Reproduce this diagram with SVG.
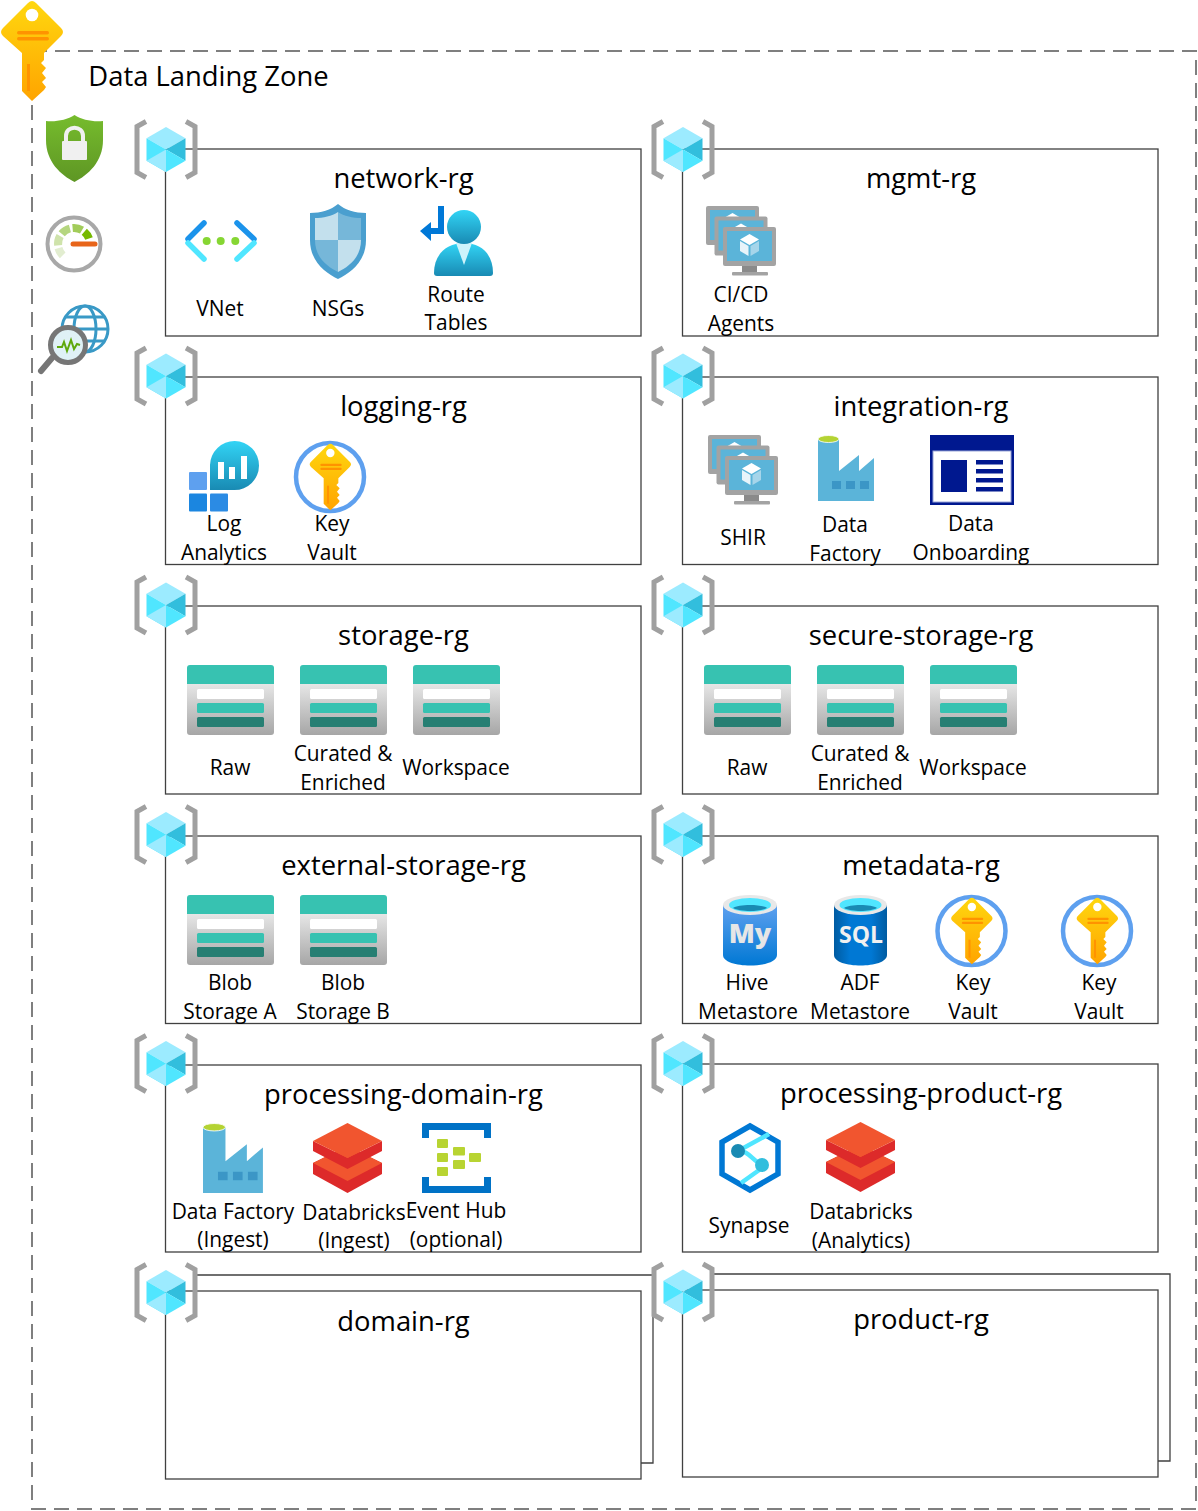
<svg xmlns="http://www.w3.org/2000/svg" xmlns:xlink="http://www.w3.org/1999/xlink" width="1198" height="1511" viewBox="0 0 1198 1511">
<style>
text{font-family:"Open Sans","Noto Sans","Liberation Sans",sans-serif;fill:#000;text-anchor:middle}
.t{font-size:27.400px}
.l{font-size:20.900px}
.box{fill:#fff;stroke:#404040;stroke-width:1.3}
.back{fill:none;stroke:#404040;stroke-width:1.3}
.br{fill:none;stroke:#a0a0a0;stroke-width:5;stroke-linejoin:miter}
</style>
<defs>
<linearGradient id="gKey" x1="0" y1="0" x2="0" y2="1"><stop offset="0" stop-color="#ffd70f"/><stop offset="1" stop-color="#ffa400"/></linearGradient>
<linearGradient id="gGrey" x1="0" y1="0" x2="0" y2="1"><stop offset="0" stop-color="#e6e6e6"/><stop offset="1" stop-color="#a6a6a6"/></linearGradient>
<linearGradient id="gCyan" x1="0" y1="0" x2="0" y2="1"><stop offset="0" stop-color="#32d4f5"/><stop offset="1" stop-color="#198ab3"/></linearGradient>
<linearGradient id="gBlue" x1="0" y1="0" x2="0" y2="1"><stop offset="0" stop-color="#5ea0ef"/><stop offset="1" stop-color="#0078d4"/></linearGradient>
<linearGradient id="gSql" x1="0" y1="0" x2="1" y2="0"><stop offset="0" stop-color="#005ba1"/><stop offset="0.3" stop-color="#0078d4"/><stop offset="0.7" stop-color="#0078d4"/><stop offset="1" stop-color="#005ba1"/></linearGradient>
<linearGradient id="gGreen" x1="0" y1="0" x2="0" y2="1"><stop offset="0" stop-color="#76bc2d"/><stop offset="1" stop-color="#5e9624"/></linearGradient>

<g id="i-rg">
<polyline class="br" points="-20,-28 -29,-23 -29,23 -20,28"/>
<polyline class="br" points="20,-28 29,-23 29,23 20,28"/>
<polygon points="0,-22.500 19.500,-11.300 0,0 -19.500,-11.300" fill="#9cebff"/>
<polygon points="-19.500,-11.300 0,0 0,22.500 -19.500,11.300" fill="#50e6ff"/>
<polygon points="0,0 19.500,-11.300 19.500,11.300" fill="#32bedd"/>
<polygon points="0,0 19.500,11.300 0,22.500" fill="#50e6ff"/>
<polygon points="0,0 0,22.500 -19.500,11.300" fill="#9cebff"/>
</g>

<g id="i-key">
<path d="M28,3 Q32,-1 36,3 L61,28 Q65,32 61,36 L44,53 V60 L41,63 L46,68 L42,73 L46,78 L42,82 L46,87 L44,90 L32,101 L22,91 V53 L3,36 Q-1,32 3,28 Z" fill="url(#gKey)"/>
<circle cx="32" cy="15" r="6.300" fill="#fff"/>
<rect x="17" y="31" width="32" height="3.500" rx="1.700" fill="#ff9300"/>
<rect x="17" y="37" width="32" height="3.500" rx="1.700" fill="#ff9300"/>
<rect x="27" y="64" width="3" height="27" fill="#ff9300"/>
</g>

<g id="i-kv">
<circle cx="0" cy="0" r="34" fill="#fff" stroke="#5ea0ef" stroke-width="4.500"/>
<use href="#i-key" transform="translate(-21,-34) scale(.667)"/>
</g>

<g id="i-st">
<path d="M0,19 V3 Q0,0 3,0 H84 Q87,0 87,3 V19 Z" fill="#37c2b1"/>
<path d="M0,19 H87 V67 Q87,70 84,70 H3 Q0,70 0,67 Z" fill="url(#gGrey)"/>
<rect x="10" y="24" width="67" height="10" rx="1.500" fill="#fff"/>
<rect x="10" y="38" width="67" height="10" rx="1.500" fill="#37c2b1"/>
<rect x="10" y="52" width="67" height="10" rx="1.500" fill="#277f73"/>
</g>

<g id="i-mon">
<rect x="0" y="0" width="53" height="39" rx="2" fill="#a3a3a3"/>
<rect x="4" y="4" width="45" height="30" fill="#5bb4d9"/>
<polygon points="26.500,7 36,12.500 26.500,18 17,12.500" fill="#fff"/>
<polygon points="17,14 25.500,19 25.500,29 17,24" fill="#e8f4fa"/>
<polygon points="36,14 27.500,19 27.500,29 36,24" fill="#a6d5ea"/>
</g>
<g id="i-vms">
<use href="#i-mon"/>
<use href="#i-mon" x="8.500" y="10.500"/>
<use href="#i-mon" x="17" y="21"/>
<rect x="36" y="60" width="15" height="6" fill="#8a8a8a"/>
<rect x="26" y="66" width="36" height="3.500" rx="1" fill="#a3a3a3"/>
</g>

<g id="i-fa">
<polygon points="0,4 21,4 21,36 41,20 41,36 56,23 56,66 0,66" fill="#5bb4d9"/>
<ellipse cx="10.500" cy="4" rx="10.500" ry="3.500" fill="#b4d333" stroke="#fff" stroke-width=".8"/>
<rect x="14" y="46" width="9" height="8" fill="#3b96c6"/>
<rect x="28" y="46" width="9" height="8" fill="#3b96c6"/>
<rect x="42" y="46" width="9" height="8" fill="#3b96c6"/>
</g>

<g id="i-db">
<polygon points="34.500,23 69,40 69,51 34.500,70 0,51 0,40" fill="#dd2a2a"/>
<polygon points="34.500,23 69,40 34.500,58 0,40" fill="#f1552f"/>
<polygon points="0,18 34.500,35 69,18 69,28 34.500,46 0,28" fill="#dd2a2a"/>
<polygon points="34.500,0 69,18 34.500,35 0,18" fill="#f1552f"/>
</g>
</defs>

<g id="zone">
<rect x="32" y="51" width="1164" height="1458" fill="none" stroke="#7f7f7f" stroke-width="2" stroke-dasharray="15 8"/>
<text class="t" x="208.500" y="86">Data Landing Zone</text>
<use id="zone-key" href="#i-key" x="0" y="0"/>
<g id="zone-shield">
<path d="M74.500,115 C82,120 93,122 103,121 V140 C103,162 88,175 74.500,182 C61,175 46,162 46,140 V121 C56,122 67,120 74.500,115 Z" fill="url(#gGreen)"/>
<path d="M66,141 V136 C66,125 83,125 83,136 V141" fill="none" stroke="#f0f0f0" stroke-width="4"/>
<rect x="62" y="141" width="25" height="19" rx="1" fill="#f0f0f0"/>
</g>
<g id="zone-gauge" fill="none">
<circle cx="74" cy="244" r="26.500" stroke="#a8a8a8" stroke-width="4" fill="#fff"/>
<path d="M89,238.500 A16,16 0 0 0 84.300,231.700" stroke="#76b900" stroke-width="8"/>
<path d="M82,230.100 A16,16 0 0 0 72.600,228" stroke="#a2cc5a" stroke-width="8"/>
<path d="M69.900,228.500 A16,16 0 0 0 61.700,233.700" stroke="#b5d67f" stroke-width="8"/>
<path d="M60.100,236 A16,16 0 0 0 58.100,245.400" stroke="#cfe3ab" stroke-width="8"/>
<path d="M58.500,248.100 A16,16 0 0 0 62.700,255.300" stroke="#e2edd0" stroke-width="8"/>
<line x1="73" y1="244" x2="95" y2="244" stroke="#e8651a" stroke-width="5" stroke-linecap="round"/>
</g>
<g id="zone-monitor" fill="none">
<circle cx="85" cy="329" r="23" stroke="#3999c6" stroke-width="3"/>
<ellipse cx="85" cy="329" rx="11" ry="23" stroke="#3999c6" stroke-width="3"/>
<path d="M62,329 H108 M66,317 H104 M66,341 H104" stroke="#3999c6" stroke-width="3"/>
<line x1="52" y1="358" x2="41" y2="371" stroke="#767676" stroke-width="6" stroke-linecap="round"/>
<circle cx="68" cy="345" r="17.500" fill="#dff1f6" stroke="#767676" stroke-width="5"/>
<polyline points="57,347 62,347 64,342 67,351 71,340 74,349 77,344 80,345" stroke="#5ea80d" stroke-width="2"/>
</g>
</g>

<g id="network-rg">
<rect class="box" x="165.500" y="149" width="475.500" height="187"/>
<use href="#i-rg" x="166" y="149.500"/>
<text class="t" x="403.500" y="188">network-rg</text>
<g id="network-vnet" fill="none" stroke-width="5.500" stroke-linecap="round">
<path d="M204,223 L188,239 M237,223 L254,239" stroke="#1b93eb"/>
<path d="M188,243 L204,259 M254,243 L237,259" stroke="#50e6ff"/>
<circle cx="206.700" cy="241" r="4" fill="#86d633" stroke="none"/><circle cx="220.700" cy="241" r="4" fill="#86d633" stroke="none"/><circle cx="235.300" cy="241" r="4" fill="#86d633" stroke="none"/>
</g>
<g id="network-nsg">
<path d="M338,204 C345,210 355,213 366,213 V240 C366,262 350,273 338,279 C326,273 310,262 310,240 V213 C321,213 331,210 338,204 Z" fill="#4a9fcf"/>
<path d="M338,212 C332,216 323,218 315,218 V240 H338 Z" fill="#c3e0ed"/>
<path d="M338,212 C344,216 353,218 361,218 V240 H338 Z" fill="#76b7d9"/>
<path d="M315,240 C315,258 328,267 338,272 V240 Z" fill="#76b7d9"/>
<path d="M361,240 C361,258 348,267 338,272 V240 Z" fill="#c3e0ed"/>
</g>
<g id="network-route">
<path d="M434,273 C434,255 446,243 464,243 C482,243 493,255 493,273 Q493,276 490,276 H437 Q434,276 434,273 Z" fill="url(#gCyan)"/>
<polygon points="456,243 472,243 464,265" fill="#cdf3fb"/>
<circle cx="464" cy="227" r="17" fill="url(#gCyan)"/>
<path d="M438,206 H444 V234 H431 V241 L420,231 L431,222 V228 H438 Z" fill="#0078d7"/>
</g>
<text class="l" x="220" y="316">VNet</text>
<text class="l" x="338" y="316">NSGs</text>
<text class="l" x="456" y="302">Route</text>
<text class="l" x="456" y="330">Tables</text>
</g>

<g id="mgmt-rg">
<rect class="box" x="682.500" y="149" width="475.500" height="187"/>
<use href="#i-rg" x="683" y="149.500"/>
<text class="t" x="921" y="188">mgmt-rg</text>
<use href="#i-vms" x="706" y="206"/>
<text class="l" x="741" y="302">CI/CD</text>
<text class="l" x="741" y="331">Agents</text>
</g>

<g id="logging-rg">
<rect class="box" x="165.500" y="377" width="475.500" height="187.500"/>
<use href="#i-rg" x="166" y="376"/>
<text class="t" x="403.500" y="416">logging-rg</text>
<g id="logging-la">
<path d="M210,490 V465 A24.500,24.500 0 1 1 234.500,490 Z" fill="url(#gCyan)"/>
<rect x="218" y="462" width="6" height="17" fill="#fff"/><rect x="229" y="467" width="6" height="12" fill="#fff"/><rect x="241" y="456" width="6" height="23" fill="#fff"/>
<rect x="189" y="472" width="18" height="18" rx="1" fill="#5ea0ef"/>
<rect x="189" y="493.500" width="18" height="18" rx="1" fill="#1b86e0"/>
<rect x="210" y="493.500" width="18" height="18" rx="1" fill="#2b8be4"/>
</g>
<use href="#i-kv" x="330" y="477"/>
<text class="l" x="224" y="531">Log</text>
<text class="l" x="224" y="560">Analytics</text>
<text class="l" x="332" y="531">Key</text>
<text class="l" x="332" y="560">Vault</text>
</g>

<g id="integration-rg">
<rect class="box" x="682.500" y="377" width="475.500" height="187.500"/>
<use href="#i-rg" x="683" y="376"/>
<text class="t" x="921" y="416">integration-rg</text>
<use href="#i-vms" x="708" y="435"/>
<use href="#i-fa" x="818" y="435"/>
<g id="integration-onboarding">
<rect x="930" y="435" width="84" height="70" fill="#00188f"/>
<rect x="933" y="451" width="78" height="51" fill="#fff" stroke="#9aa5d8"/>
<rect x="941" y="460" width="26" height="32" fill="#00188f"/>
<rect x="976" y="460" width="27" height="4.500" fill="#00188f"/><rect x="976" y="469" width="27" height="4.500" fill="#00188f"/><rect x="976" y="478" width="27" height="4.500" fill="#00188f"/><rect x="976" y="487" width="27" height="4.500" fill="#00188f"/>
</g>
<text class="l" x="743" y="545">SHIR</text>
<text class="l" x="845" y="532">Data</text>
<text class="l" x="845" y="561">Factory</text>
<text class="l" x="971" y="531">Data</text>
<text class="l" x="971" y="560">Onboarding</text>
</g>

<g id="storage-rg">
<rect class="box" x="165.500" y="606" width="475.500" height="188"/>
<use href="#i-rg" x="166" y="605"/>
<text class="t" x="403.500" y="645">storage-rg</text>
<use href="#i-st" x="187" y="665"/><use href="#i-st" x="300" y="665"/><use href="#i-st" x="413" y="665"/>
<text class="l" x="230" y="775">Raw</text>
<text class="l" x="343" y="761">Curated &amp;</text>
<text class="l" x="343" y="790">Enriched</text>
<text class="l" x="456" y="775">Workspace</text>
</g>

<g id="secure-storage-rg">
<rect class="box" x="682.500" y="606" width="475.500" height="188"/>
<use href="#i-rg" x="683" y="605"/>
<text class="t" x="921" y="645">secure-storage-rg</text>
<use href="#i-st" x="704" y="665"/><use href="#i-st" x="817" y="665"/><use href="#i-st" x="930" y="665"/>
<text class="l" x="747" y="775">Raw</text>
<text class="l" x="860" y="761">Curated &amp;</text>
<text class="l" x="860" y="790">Enriched</text>
<text class="l" x="973" y="775">Workspace</text>
</g>

<g id="external-storage-rg">
<rect class="box" x="165.500" y="836" width="475.500" height="187.500"/>
<use href="#i-rg" x="166" y="834.500"/>
<text class="t" x="403.500" y="875">external-storage-rg</text>
<use href="#i-st" x="187" y="895"/><use href="#i-st" x="300" y="895"/>
<text class="l" x="230" y="990">Blob</text>
<text class="l" x="230" y="1019">Storage A</text>
<text class="l" x="343" y="990">Blob</text>
<text class="l" x="343" y="1019">Storage B</text>
</g>

<g id="metadata-rg">
<rect class="box" x="682.500" y="836" width="475.500" height="187.500"/>
<use href="#i-rg" x="683" y="834.500"/>
<text class="t" x="921" y="875">metadata-rg</text>
<g id="metadata-hive">
<path d="M723,905 V955 C723,969 777,969 777,955 V905 Z" fill="url(#gBlue)"/>
<ellipse cx="750" cy="905" rx="27" ry="10" fill="#e8e8e8"/>
<ellipse cx="750" cy="905" rx="21" ry="7" fill="#50e6ff"/>
<path d="M733,908 C738,904 762,904 767,908 C760,912 740,912 733,908 Z" fill="#198ab3"/>
<text x="750" y="943" style="font-size:27px;font-weight:800;fill:#e6e6e6">My</text>
</g>
<g id="metadata-adf">
<path d="M834,905 V955 C834,969 887,969 887,955 V905 Z" fill="url(#gSql)"/>
<ellipse cx="860.500" cy="905" rx="26.500" ry="10" fill="#e8e8e8"/>
<ellipse cx="860.500" cy="905" rx="21" ry="7" fill="#50e6ff"/>
<path d="M844,908 C849,904 872,904 877,908 C870,912 851,912 844,908 Z" fill="#198ab3"/>
<text x="861" y="943" style="font-size:23px;font-weight:700;fill:#f0f0f0">SQL</text>
</g>
<use href="#i-kv" x="971.500" y="931"/>
<use href="#i-kv" x="1097" y="931"/>
<text class="l" x="747" y="990">Hive</text>
<text class="l" x="748" y="1019">Metastore</text>
<text class="l" x="860" y="990">ADF</text>
<text class="l" x="860" y="1019">Metastore</text>
<text class="l" x="973" y="990">Key</text>
<text class="l" x="973" y="1019">Vault</text>
<text class="l" x="1099" y="990">Key</text>
<text class="l" x="1099" y="1019">Vault</text>
</g>

<g id="processing-domain-rg">
<rect class="box" x="165.500" y="1065" width="475.500" height="187"/>
<use href="#i-rg" x="166" y="1063.500"/>
<text class="t" x="403.500" y="1104">processing-domain-rg</text>
<use href="#i-fa" transform="translate(203,1123) scale(1.070,1.060)"/>
<use href="#i-db" x="313" y="1123"/>
<g id="processing-eventhub">
<path d="M422,1123 H491 V1138 H484 V1130 H429 V1138 H422 Z" fill="#0072c6"/>
<path d="M422,1193 H491 V1177 H484 V1186 H429 V1177 H422 Z" fill="#0072c6"/>
<g fill="#b8d432">
<rect x="437" y="1139" width="11" height="9" rx="1"/><rect x="437" y="1153" width="11" height="9" rx="1"/><rect x="437" y="1167" width="11" height="9" rx="1"/>
<rect x="453" y="1147" width="12" height="8.500" rx="1"/><rect x="453" y="1160" width="12" height="9" rx="1"/>
<rect x="469" y="1153" width="12" height="9" rx="1"/>
</g>
</g>
<text class="l" x="233" y="1219">Data Factory</text>
<text class="l" x="233" y="1247">(Ingest)</text>
<text class="l" x="354" y="1220">Databricks</text>
<text class="l" x="354" y="1248">(Ingest)</text>
<text class="l" x="456" y="1218">Event Hub</text>
<text class="l" x="456" y="1247">(optional)</text>
</g>

<g id="processing-product-rg">
<rect class="box" x="682.500" y="1064" width="475.500" height="188"/>
<use href="#i-rg" x="683" y="1063.500"/>
<text class="t" x="921" y="1103">processing-product-rg</text>
<g id="processing-synapse">
<polygon points="750,1126 778,1142 778,1174 750,1190 722,1174 722,1142" fill="#fff" stroke="#0078d4" stroke-width="5.500"/>
<path d="M738,1151 L769,1134 M741,1183 L762,1168 M738,1151 C748,1150 752,1160 762,1165" fill="none" stroke="#50e6ff" stroke-width="4.500"/>
<circle cx="738" cy="1151" r="7" fill="#198ab3"/>
<circle cx="762" cy="1165" r="7" fill="#32bedd"/>
</g>
<use href="#i-db" x="826" y="1122"/>
<text class="l" x="749" y="1233">Synapse</text>
<text class="l" x="861" y="1219">Databricks</text>
<text class="l" x="861" y="1248">(Analytics)</text>
</g>

<g id="domain-rg">
<path class="back" d="M197,1275 H653 V1463 H641"/>
<rect class="box" x="165.500" y="1291" width="475.500" height="188"/>
<use href="#i-rg" x="166" y="1292.500"/>
<text class="t" x="403.500" y="1331">domain-rg</text>
</g>

<g id="product-rg">
<path class="back" d="M714,1274 H1170 V1461 H1158"/>
<rect class="box" x="682.500" y="1290" width="475.500" height="187"/>
<use href="#i-rg" x="683" y="1292"/>
<text class="t" x="921" y="1329">product-rg</text>
</g>
</svg>
